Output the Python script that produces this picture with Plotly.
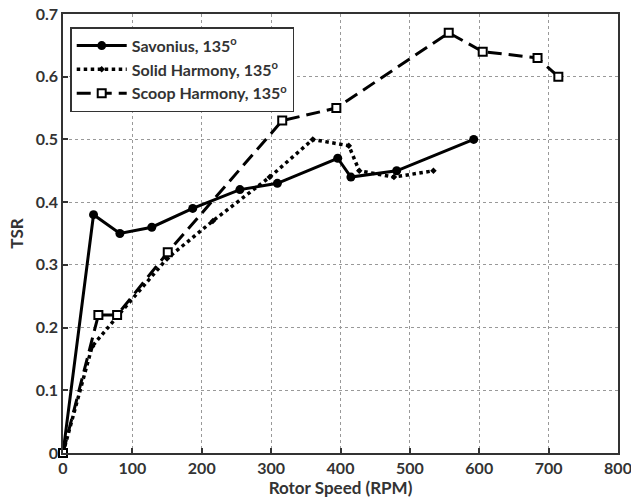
import plotly.graph_objects as go

sav_x = [0, 44, 82, 128, 187, 255, 309, 396, 415, 481, 592]
sav_y = [0, 0.38, 0.35, 0.36, 0.39, 0.42, 0.43, 0.47, 0.44, 0.45, 0.50]

solid_x = [0, 42, 80, 150, 216, 298, 360, 412, 427, 477, 534]
solid_y = [0, 0.17, 0.22, 0.31, 0.37, 0.44, 0.50, 0.49, 0.45, 0.44, 0.45]

scoop_x = [0, 51, 78, 151, 316, 394, 556, 605, 684, 714]
scoop_y = [0, 0.22, 0.22, 0.32, 0.53, 0.55, 0.67, 0.64, 0.63, 0.60]

x_ticks = [0, 100, 200, 300, 400, 500, 600, 700, 800]
y_ticks = [0, 0.1, 0.2, 0.3, 0.4, 0.5, 0.6, 0.7]
y_labels = ["0", "0.1", "0.2", "0.3", "0.4", "0.5", "0.6", "0.7"]

font = "Lato"

fig = go.Figure()
fig.add_trace(go.Scatter(
    x=sav_x, y=sav_y, mode="lines+markers", name="<b>Savonius, 135<sup>o</sup></b>",
    line=dict(color="black", width=3, dash="solid"),
    marker=dict(symbol="circle", size=9, color="black"), cliponaxis=False))
fig.add_trace(go.Scatter(
    x=solid_x, y=solid_y, mode="lines+markers", name="<b>Solid Harmony, 135<sup>o</sup></b>",
    line=dict(color="black", width=3.5, dash="dot"),
    marker=dict(symbol="diamond", size=5, color="black"), cliponaxis=False))
fig.add_trace(go.Scatter(
    x=scoop_x, y=scoop_y, mode="lines+markers", name="<b>Scoop Harmony, 135<sup>o</sup></b>",
    line=dict(color="black", width=3, dash="14px,7px"),
    marker=dict(symbol="square", size=8, color="white", line=dict(color="black", width=2)),
    cliponaxis=False))

axis_common = dict(
    showline=True, linecolor="#333333", linewidth=1.5, mirror=True,
    ticks="inside", ticklen=5, tickcolor="#333333", tickwidth=1.5,
    showgrid=True, gridcolor="#999999", griddash="dot", gridwidth=1,
    zeroline=False, automargin=False, ticklabeloverflow="allow",
    tickfont=dict(family=font, size=16, color="#333333"),
)

fig.update_xaxes(range=[0, 800], tickvals=x_ticks, ticktext=["<b>%d</b>" % v for v in x_ticks],
                 title=dict(text="<b>Rotor Speed (RPM)</b>", font=dict(family=font, size=17, color="#333333"), standoff=2),
                 **axis_common)
fig.update_yaxes(range=[0, 0.7], tickvals=y_ticks, ticktext=["<b>%s</b>" % t for t in y_labels],
                 title=dict(text="<b>TSR</b>", font=dict(family=font, size=17, color="#333333"), standoff=8),
                 **axis_common)

fig.update_layout(
    width=631, height=502,
    margin=dict(l=63, r=13, t=14, b=49, autoexpand=False),
    plot_bgcolor="white", paper_bgcolor="white",
    font=dict(family=font, color="#333333"),
    legend=dict(x=0.013, y=0.97, xanchor="left", yanchor="top",
                bgcolor="white", bordercolor="#333333", borderwidth=1.5,
                font=dict(family=font, size=16, color="#333333"),
                itemwidth=50),
    showlegend=True,
)

fig.write_html("out.html", config={"displayModeBar": False},
               post_script="document.body.style.margin='0px';document.body.style.overflow='hidden';")
